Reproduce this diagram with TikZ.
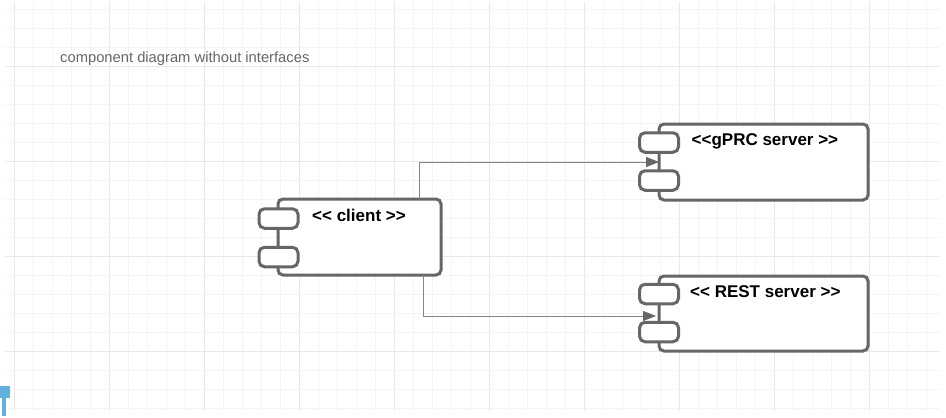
\documentclass[tikz,border=0pt]{standalone}
\usepackage{fontspec}
\setmainfont{Liberation Sans}
\usetikzlibrary{arrows.meta}
\definecolor{gridminor}{HTML}{F4F4F4}
\definecolor{gridmajor}{HTML}{E8E8E8}
\definecolor{shapeline}{HTML}{666666}
\definecolor{connline}{HTML}{858585}
\definecolor{markblue}{HTML}{62B0DC}
\tikzset{
  x=1pt,y=-1pt,
  body/.style={draw=shapeline,line width=3pt,fill=white,rounded corners=5pt,inner sep=0pt,outer sep=0pt},
  port/.style={draw=shapeline,line width=3pt,fill=white,rounded corners=5.5pt,inner sep=0pt,outer sep=0pt,minimum width=39pt,minimum height=19.5pt},
  stereo/.style={anchor=base west,inner sep=0pt,font=\fontsize{17}{20}\selectfont\bfseries,text=black},
  conn/.style={draw=connline,line width=0.9pt,-{Triangle[length=13pt,width=10pt,fill=shapeline,color=shapeline]}},
}
\begin{document}
\begin{tikzpicture}
\useasboundingbox (0,0) rectangle (946,418);
\fill[white] (0,0) rectangle (946,418);
% grid
\foreach \k in {0,...,48}{
  \pgfmathtruncatemacro{\xx}{14+19*\k}
  \pgfmathtruncatemacro{\mm}{mod(\k,5)}
  \ifnum\mm=0 \draw[gridmajor,line width=1pt] (\xx,2) -- (\xx,411);
  \else \draw[gridminor,line width=1pt] (\xx,2) -- (\xx,411);\fi
}
\foreach \k in {0,...,21}{
  \pgfmathtruncatemacro{\yy}{9+19*\k}
  \pgfmathtruncatemacro{\mm}{mod(\k+2,5)}
  \ifnum\mm=0 \draw[gridmajor,line width=1pt] (5,\yy) -- (940,\yy);
  \else \draw[gridminor,line width=1pt] (5,\yy) -- (940,\yy);\fi
}
% blue handle
\fill[markblue] (0,386) rectangle (10,398);
\fill[markblue] (2,398) rectangle (6,416);
% title
\node[anchor=base west,inner sep=0pt,text=shapeline,font=\fontsize{14.75}{17}\selectfont] (title) at (60,62) {component diagram without interfaces};
% bodies
\node[body,minimum width=163pt,minimum height=76pt] (client) at (359.5,237) {};
\node[body,minimum width=209pt,minimum height=76pt] (gprc) at (763.5,162) {};
\node[body,minimum width=209pt,minimum height=75pt] (rest) at (763.5,313.5) {};
% connector ends
\coordinate (cout1) at ([xshift=-22pt]client.north east);
\coordinate (cout2) at ([xshift=-18pt]client.south east);
\coordinate (gin) at (gprc.west);
\coordinate (rin) at ([yshift=-2.5pt]rest.west);
\draw[conn] (cout1) |- (gin);
\draw[conn] (cout2) |- ([xshift=-3pt]rin);
% ports
\node[port] (cp1) at (278.5,218.5) {};
\node[port] (cp2) at (278.5,257) {};
\node[port] (gp1) at (659,142.5) {};
\node[port] (gp2) at (659,180.5) {};
\node[port] (rp1) at (659,294) {};
\node[port] (rp2) at (659,332) {};
% labels
\node[stereo] (clabel) at (312,221) {<{}< client >{}>};
\node[stereo] (glabel) at (691.5,145) {<{}<gPRC server >{}>};
\node[stereo] (rlabel) at (690,297) {<{}< REST server >{}>};
\end{tikzpicture}
\end{document}
